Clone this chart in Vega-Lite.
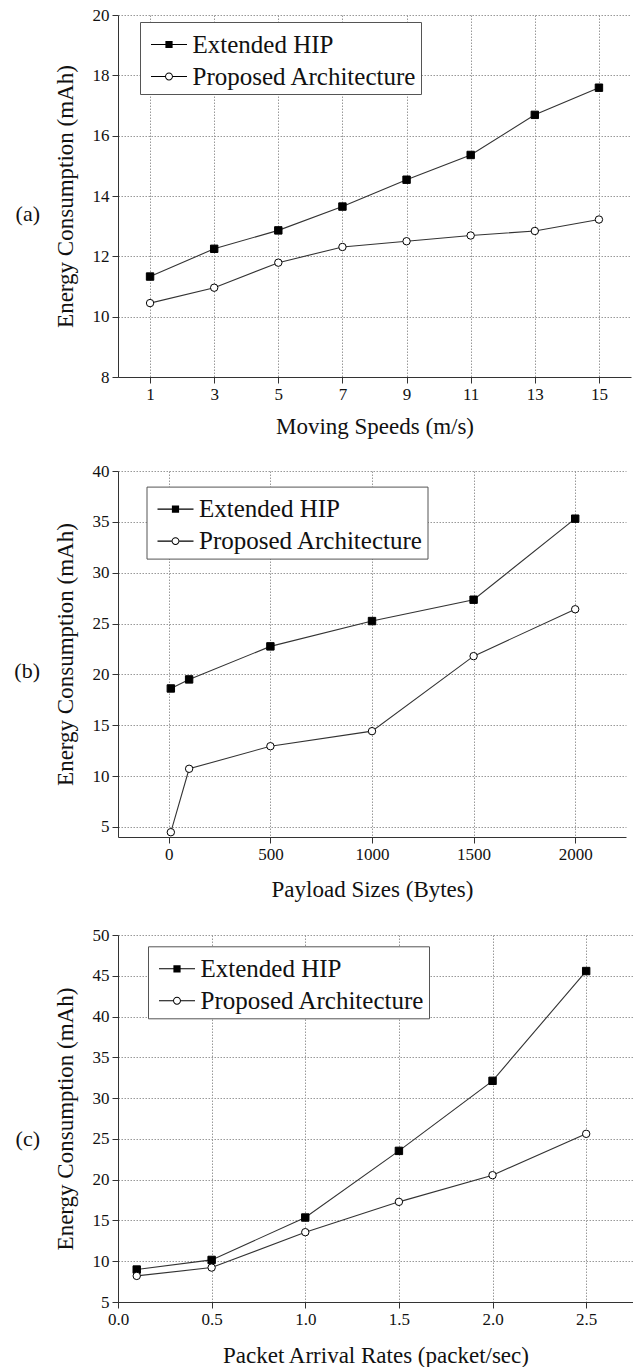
{
  "$schema": "https://vega.github.io/schema/vega-lite/v6.json",
  "padding": {"left": 14, "top": 6, "right": 0, "bottom": 0},
  "spacing": 24,
  "resolve": {"scale": {"shape": "independent", "fill": "independent"}, "legend": {"shape": "independent", "fill": "independent"}},
  "config": {
    "font": "Liberation Serif",
    "view": {"stroke": null},
    "axis": {
      "labelFont": "Liberation Serif", "labelFontSize": 17, "labelColor": "#111",
      "titleFont": "Liberation Serif", "titleFontSize": 23, "titleFontWeight": "normal", "titleColor": "#111",
      "domainColor": "#333", "tickColor": "#333", "tickSize": 6, "labelPadding": 3,
      "gridColor": "#999", "gridDash": [1.5, 1.5], "gridOpacity": 1, "gridWidth": 1,
      "labelFlush": false, "labelOverlap": false
    },
    "axisY": {"titlePadding": 15},
    "axisX": {"titlePadding": 13},
    "legend": {
      "orient": "none", "title": null,
      "labelFont": "Liberation Serif", "labelFontSize": 25, "labelColor": "#111", "labelLimit": 0,
      "padding": 4, "strokeColor": "#555", "fillColor": "white", "rowPadding": 0,
      "labelOffset": 5, "symbolOffset": 6.5, "symbolSize": 1296, "symbolStrokeWidth": 1,
      "symbolOpacity": 1, "symbolStrokeColor": "black"
    },
    "title": {"font": "Liberation Serif", "fontSize": 22, "fontWeight": "normal", "color": "#111"}
  },
  "vconcat": [
    {
      "width": 513, "height": 362,
      "title": {"text": "(a)", "orient": "left", "anchor": "middle", "angle": 0, "align": "left", "baseline": "middle", "offset": 14, "dy": 18},
      "data": {"values": [
        {"x": 1, "series": "Extended HIP", "energy": 11.33},
        {"x": 3, "series": "Extended HIP", "energy": 12.25},
        {"x": 5, "series": "Extended HIP", "energy": 12.86},
        {"x": 7, "series": "Extended HIP", "energy": 13.65},
        {"x": 9, "series": "Extended HIP", "energy": 14.54},
        {"x": 11, "series": "Extended HIP", "energy": 15.36},
        {"x": 13, "series": "Extended HIP", "energy": 16.69},
        {"x": 15, "series": "Extended HIP", "energy": 17.59},
        {"x": 1, "series": "Proposed Architecture", "energy": 10.45},
        {"x": 3, "series": "Proposed Architecture", "energy": 10.96},
        {"x": 5, "series": "Proposed Architecture", "energy": 11.79},
        {"x": 7, "series": "Proposed Architecture", "energy": 12.31},
        {"x": 9, "series": "Proposed Architecture", "energy": 12.50},
        {"x": 11, "series": "Proposed Architecture", "energy": 12.69},
        {"x": 13, "series": "Proposed Architecture", "energy": 12.84},
        {"x": 15, "series": "Proposed Architecture", "energy": 13.22}
      ]},
      "encoding": {
        "x": {"field": "x", "type": "quantitative", "scale": {"domain": [0, 16], "nice": false, "zero": false},
              "axis": {"values": [1, 3, 5, 7, 9, 11, 13, 15], "title": "Moving Speeds (m/s)"}},
        "y": {"field": "energy", "type": "quantitative", "scale": {"domain": [8, 20], "nice": false, "zero": false},
              "axis": {"values": [8, 10, 12, 14, 16, 18, 20], "title": "Energy Consumption (mAh)"}}
      },
      "layer": [
        {"mark": {"type": "line", "color": "#333", "strokeWidth": 1.1}, "encoding": {"detail": {"field": "series"}}},
        {"transform": [{"filter": "datum.series === 'Extended HIP'"}],
         "mark": {"type": "point", "shape": "square", "filled": true, "fill": "black", "stroke": "black", "strokeWidth": 1, "size": 55, "opacity": 1}},
        {"transform": [{"filter": "datum.series === 'Proposed Architecture'"}],
         "mark": {"type": "point", "shape": "circle", "filled": true, "fill": "white", "stroke": "black", "strokeWidth": 1, "size": 55, "opacity": 1}},
        {"mark": {"type": "point", "filled": true, "stroke": "black", "strokeWidth": 1, "opacity": 0},
         "encoding": {
           "shape": {"field": "series", "type": "nominal", "scale": {"domain": ["Extended HIP", "Proposed Architecture"], "range": ["M-1,-0.03H1V0.03H-1ZM-0.2,-0.2H0.2V0.2H-0.2Z", "M-1,-0.03H-0.22V0.03H-1ZM0.22,-0.03H1V0.03H0.22ZM0.22,0A0.22,0.22,0,1,1,-0.22,0A0.22,0.22,0,1,1,0.22,0ZM0.165,0A0.165,0.165,0,1,0,-0.165,0A0.165,0.165,0,1,0,0.165,0Z"]},
                     "legend": {"legendX": 22, "legendY": 7}},
           "fill": {"field": "series", "type": "nominal", "scale": {"domain": ["Extended HIP", "Proposed Architecture"], "range": ["black", "black"]},
                    "legend": {"legendX": 22, "legendY": 7}}
         }}
      ]
    },
    {
      "width": 508, "height": 366,
      "title": {"text": "(b)", "orient": "left", "anchor": "middle", "angle": 0, "align": "left", "baseline": "middle", "offset": 14, "dy": 17},
      "data": {"values": [
        {"x": 10, "series": "Extended HIP", "energy": 18.61},
        {"x": 100, "series": "Extended HIP", "energy": 19.5},
        {"x": 500, "series": "Extended HIP", "energy": 22.75},
        {"x": 1000, "series": "Extended HIP", "energy": 25.24},
        {"x": 1500, "series": "Extended HIP", "energy": 27.34},
        {"x": 2000, "series": "Extended HIP", "energy": 35.31},
        {"x": 10, "series": "Proposed Architecture", "energy": 4.47},
        {"x": 100, "series": "Proposed Architecture", "energy": 10.71},
        {"x": 500, "series": "Proposed Architecture", "energy": 12.93},
        {"x": 1000, "series": "Proposed Architecture", "energy": 14.41},
        {"x": 1500, "series": "Proposed Architecture", "energy": 21.79},
        {"x": 2000, "series": "Proposed Architecture", "energy": 26.4}
      ]},
      "encoding": {
        "x": {"field": "x", "type": "quantitative", "scale": {"domain": [-250, 2250], "nice": false, "zero": false},
              "axis": {"values": [0, 500, 1000, 1500, 2000], "format": "d", "title": "Payload Sizes (Bytes)", "titlePadding": 16.5}},
        "y": {"field": "energy", "type": "quantitative", "scale": {"domain": [4, 40], "nice": false, "zero": false},
              "axis": {"values": [5, 10, 15, 20, 25, 30, 35, 40], "title": "Energy Consumption (mAh)"}}
      },
      "layer": [
        {"mark": {"type": "line", "color": "#333", "strokeWidth": 1.1}, "encoding": {"detail": {"field": "series"}}},
        {"transform": [{"filter": "datum.series === 'Extended HIP'"}],
         "mark": {"type": "point", "shape": "square", "filled": true, "fill": "black", "stroke": "black", "strokeWidth": 1, "size": 55, "opacity": 1}},
        {"transform": [{"filter": "datum.series === 'Proposed Architecture'"}],
         "mark": {"type": "point", "shape": "circle", "filled": true, "fill": "white", "stroke": "black", "strokeWidth": 1, "size": 55, "opacity": 1}},
        {"mark": {"type": "point", "filled": true, "stroke": "black", "strokeWidth": 1, "opacity": 0},
         "encoding": {
           "shape": {"field": "series", "type": "nominal", "scale": {"domain": ["Extended HIP", "Proposed Architecture"], "range": ["M-1,-0.03H1V0.03H-1ZM-0.2,-0.2H0.2V0.2H-0.2Z", "M-1,-0.03H-0.22V0.03H-1ZM0.22,-0.03H1V0.03H0.22ZM0.22,0A0.22,0.22,0,1,1,-0.22,0A0.22,0.22,0,1,1,0.22,0ZM0.165,0A0.165,0.165,0,1,0,-0.165,0A0.165,0.165,0,1,0,0.165,0Z"]},
                     "legend": {"legendX": 28.5, "legendY": 15.6}},
           "fill": {"field": "series", "type": "nominal", "scale": {"domain": ["Extended HIP", "Proposed Architecture"], "range": ["black", "black"]},
                    "legend": {"legendX": 28.5, "legendY": 15.6}}
         }}
      ]
    },
    {
      "width": 515, "height": 367,
      "title": {"text": "(c)", "orient": "left", "anchor": "middle", "angle": 0, "align": "left", "baseline": "middle", "offset": 14, "dy": 20},
      "data": {"values": [
        {"x": 0.1, "series": "Extended HIP", "energy": 8.98},
        {"x": 0.5, "series": "Extended HIP", "energy": 10.16},
        {"x": 1.0, "series": "Extended HIP", "energy": 15.36},
        {"x": 1.5, "series": "Extended HIP", "energy": 23.53},
        {"x": 2.0, "series": "Extended HIP", "energy": 32.12},
        {"x": 2.5, "series": "Extended HIP", "energy": 45.58},
        {"x": 0.1, "series": "Proposed Architecture", "energy": 8.2},
        {"x": 0.5, "series": "Proposed Architecture", "energy": 9.22},
        {"x": 1.0, "series": "Proposed Architecture", "energy": 13.56},
        {"x": 1.5, "series": "Proposed Architecture", "energy": 17.28},
        {"x": 2.0, "series": "Proposed Architecture", "energy": 20.55},
        {"x": 2.5, "series": "Proposed Architecture", "energy": 25.62}
      ]},
      "encoding": {
        "x": {"field": "x", "type": "quantitative", "scale": {"domain": [0, 2.75], "nice": false, "zero": false},
              "axis": {"values": [0, 0.5, 1, 1.5, 2, 2.5], "format": ".1f", "title": "Packet Arrival Rates (packet/sec)", "titlePadding": 17}},
        "y": {"field": "energy", "type": "quantitative", "scale": {"domain": [5, 50], "nice": false, "zero": false},
              "axis": {"values": [5, 10, 15, 20, 25, 30, 35, 40, 45, 50], "title": "Energy Consumption (mAh)"}}
      },
      "layer": [
        {"mark": {"type": "line", "color": "#333", "strokeWidth": 1.1}, "encoding": {"detail": {"field": "series"}}},
        {"transform": [{"filter": "datum.series === 'Extended HIP'"}],
         "mark": {"type": "point", "shape": "square", "filled": true, "fill": "black", "stroke": "black", "strokeWidth": 1, "size": 55, "opacity": 1}},
        {"transform": [{"filter": "datum.series === 'Proposed Architecture'"}],
         "mark": {"type": "point", "shape": "circle", "filled": true, "fill": "white", "stroke": "black", "strokeWidth": 1, "size": 55, "opacity": 1}},
        {"mark": {"type": "point", "filled": true, "stroke": "black", "strokeWidth": 1, "opacity": 0},
         "encoding": {
           "shape": {"field": "series", "type": "nominal", "scale": {"domain": ["Extended HIP", "Proposed Architecture"], "range": ["M-1,-0.03H1V0.03H-1ZM-0.2,-0.2H0.2V0.2H-0.2Z", "M-1,-0.03H-0.22V0.03H-1ZM0.22,-0.03H1V0.03H0.22ZM0.22,0A0.22,0.22,0,1,1,-0.22,0A0.22,0.22,0,1,1,0.22,0ZM0.165,0A0.165,0.165,0,1,0,-0.165,0A0.165,0.165,0,1,0,0.165,0Z"]},
                     "legend": {"legendX": 30, "legendY": 11.3}},
           "fill": {"field": "series", "type": "nominal", "scale": {"domain": ["Extended HIP", "Proposed Architecture"], "range": ["black", "black"]},
                    "legend": {"legendX": 30, "legendY": 11.3}}
         }}
      ]
    }
  ]
}
